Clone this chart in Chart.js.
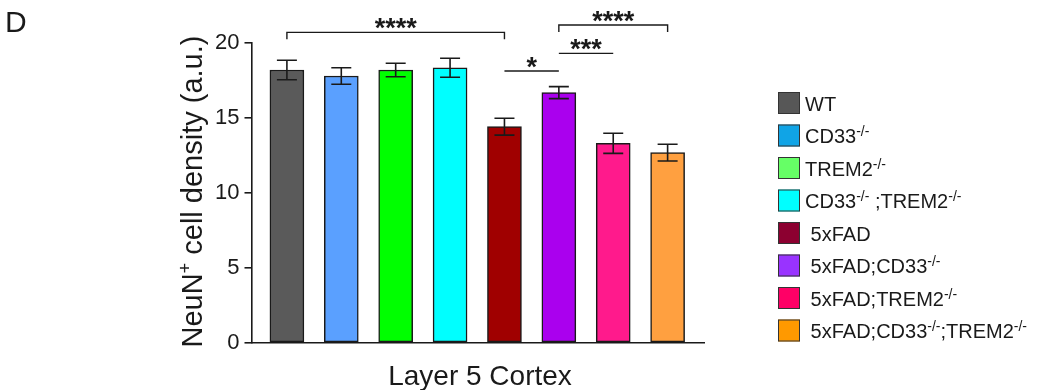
<!DOCTYPE html>
<html>
<head>
<meta charset="utf-8">
<script src="https://cdn.jsdelivr.net/npm/chart.js@4.4.1/dist/chart.umd.min.js"></script>
<style>
  html, body { margin: 0; padding: 0; background: #fff; }
  #wrap { width: 1038px; height: 390px; position: relative; }
</style>
</head>
<body>
<div id="wrap"><canvas id="c" width="1038" height="390"></canvas></div>
<script>
// ---- data ----
const categories = ['WT', 'CD33-/-', 'TREM2-/-', 'CD33-/-;TREM2-/-', '5xFAD', '5xFAD;CD33-/-', '5xFAD;TREM2-/-', '5xFAD;CD33-/-;TREM2-/-'];
const legendLabels = ['WT', 'CD33^{-/-}', 'TREM2^{-/-}', 'CD33^{-/-} ;TREM2^{-/-}', ' 5xFAD', ' 5xFAD;CD33^{-/-}', ' 5xFAD;TREM2^{-/-}', ' 5xFAD;CD33^{-/-};TREM2^{-/-}'];
const barValues = [18.18, 17.78, 18.18, 18.33, 14.40, 16.67, 13.29, 12.67];
const errValues = [0.65, 0.55, 0.45, 0.63, 0.56, 0.40, 0.67, 0.56];
const barColors = ['#5a5a5a', '#5aa0ff', '#00ff00', '#00ffff', '#a00000', '#aa00ee', '#ff1a8c', '#ffa040'];
const legendColors = ['#575757', '#10a4e6', '#66ff66', '#00ffff', '#8c0030', '#9933ff', '#ff0066', '#ff9900'];
const yTicks = [0, 5, 10, 15, 20];
const sigFrom = [0, 4, 5, 5];
const sigTo = [4, 5, 6, 7];
const sigLevel = [20.69, 18.11, 19.29, 21.18];
const sigText = ['****', '*', '***', '****'];
const sigBracket = [true, false, false, true];
const yTitle = 'NeuN^{+} cell density (a.u.)';
const xTitle = 'Layer 5 Cortex';
const panelLabel = 'D';

const FONT = '"Liberation Sans", Arial, Helvetica, sans-serif';
const INK = '#1a1a1a';

function parseRich(s) {
  const parts = [];
  const re = /\^\{([^}]*)\}/g;
  let last = 0, m;
  while ((m = re.exec(s)) !== null) {
    if (m.index > last) parts.push({ t: s.slice(last, m.index), sup: false });
    parts.push({ t: m[1], sup: true });
    last = re.lastIndex;
  }
  if (last < s.length) parts.push({ t: s.slice(last), sup: false });
  return parts;
}
function richWidth(ctx, parts, size, supSize) {
  let w = 0;
  for (const p of parts) {
    ctx.font = (p.sup ? supSize : size) + 'px ' + FONT;
    w += ctx.measureText(p.t).width;
  }
  return w;
}
function drawRich(ctx, parts, x, y, size, supSize, raise) {
  let cx = x;
  ctx.textBaseline = 'alphabetic';
  ctx.textAlign = 'left';
  for (const p of parts) {
    ctx.font = (p.sup ? supSize : size) + 'px ' + FONT;
    ctx.fillText(p.t, cx, p.sup ? y - raise : y);
    cx += ctx.measureText(p.t).width;
  }
}

const decorPlugin = {
  id: 'decor',
  afterDatasetsDraw(chart) {
    const ctx = chart.ctx;
    const xs = chart.scales.x, ys = chart.scales.y;
    const meta = chart.getDatasetMeta(0);
    ctx.save();
    // error bars
    ctx.strokeStyle = INK;
    ctx.lineWidth = 1.6;
    meta.data.forEach((bar, i) => {
      const x = bar.x;
      const yTop = ys.getPixelForValue(barValues[i] + errValues[i]);
      const yBot = ys.getPixelForValue(barValues[i] - errValues[i]);
      ctx.beginPath();
      ctx.moveTo(x, yTop); ctx.lineTo(x, yBot);
      ctx.moveTo(x - 10, yTop); ctx.lineTo(x + 10, yTop);
      ctx.moveTo(x - 10, yBot); ctx.lineTo(x + 10, yBot);
      ctx.stroke();
    });
    // significance
    ctx.lineWidth = 1.4;
    ctx.fillStyle = INK;
    for (let k = 0; k < sigFrom.length; k++) {
      const x1 = xs.getPixelForValue(sigFrom[k]);
      const x2 = xs.getPixelForValue(sigTo[k]);
      const y = ys.getPixelForValue(sigLevel[k]);
      ctx.beginPath();
      if (sigBracket[k]) {
        ctx.moveTo(x1, y + 7); ctx.lineTo(x1, y); ctx.lineTo(x2, y); ctx.lineTo(x2, y + 7);
      } else {
        ctx.moveTo(x1, y); ctx.lineTo(x2, y);
      }
      ctx.stroke();
      ctx.font = 'bold 27px ' + FONT;
      ctx.textAlign = 'center';
      ctx.textBaseline = 'alphabetic';
      ctx.fillText(sigText[k], (x1 + x2) / 2, y + 5);
    }
    ctx.restore();
  },
  afterDraw(chart) {
    const ctx = chart.ctx;
    ctx.save();
    ctx.fillStyle = INK;
    // panel label
    ctx.font = '30px ' + FONT;
    ctx.textAlign = 'left';
    ctx.textBaseline = 'alphabetic';
    ctx.fillText(panelLabel, 5, 32);
    // x title
    ctx.font = '28px ' + FONT;
    ctx.textAlign = 'center';
    ctx.fillText(xTitle, 480, 385);
    // y title
    const yp = parseRich(yTitle);
    const yw = richWidth(ctx, yp, 29, 18);
    ctx.save();
    ctx.translate(202, 191.5);
    ctx.rotate(-Math.PI / 2);
    drawRich(ctx, yp, -yw / 2, 0, 29, 18, 11);
    ctx.restore();
    // legend
    for (let i = 0; i < legendLabels.length; i++) {
      const by = 92 + i * 32.5;
      ctx.fillStyle = legendColors[i];
      ctx.fillRect(778, by, 22, 22);
      ctx.strokeStyle = '#333';
      ctx.lineWidth = 1;
      ctx.strokeRect(778.5, by + 0.5, 21, 21);
      ctx.fillStyle = INK;
      drawRich(ctx, parseRich(legendLabels[i]), 805, by + 18.5, 20, 14, 7);
    }
    ctx.restore();
  }
};

new Chart(document.getElementById('c'), {
  type: 'bar',
  data: {
    labels: categories,
    datasets: [{
      data: barValues.map((v, i) => ({ x: i, y: v })),
      backgroundColor: barColors,
      borderColor: INK,
      borderWidth: 1.5,
      borderSkipped: false,
      barThickness: 34,
      clip: false
    }]
  },
  options: {
    responsive: false,
    animation: false,
    events: [],
    layout: { padding: { left: 0, right: 334, top: 42.7, bottom: 47.3 } },
    plugins: { legend: { display: false }, tooltip: { enabled: false } },
    scales: {
      x: {
        type: 'linear',
        offset: false,
        min: -0.651,
        max: 7.669,
        ticks: { display: false },
        grid: { display: false, drawTicks: false, offset: false },
        border: { display: true, color: INK, width: 1.6 },
        afterFit: s => { s.height = 0; }
      },
      y: {
        min: 0,
        max: 20,
        afterBuildTicks: s => { s.ticks = yTicks.map(v => ({ value: v })); },
        ticks: { font: { size: 22, family: FONT }, color: INK, padding: 5 },
        grid: { drawOnChartArea: false, drawTicks: true, tickLength: 7, tickColor: INK, lineWidth: 1.6 },
        border: { display: true, color: INK, width: 1.6 },
        afterFit: s => { s.width = 251.5; }
      }
    }
  },
  plugins: [decorPlugin]
});
</script>
</body>
</html>
